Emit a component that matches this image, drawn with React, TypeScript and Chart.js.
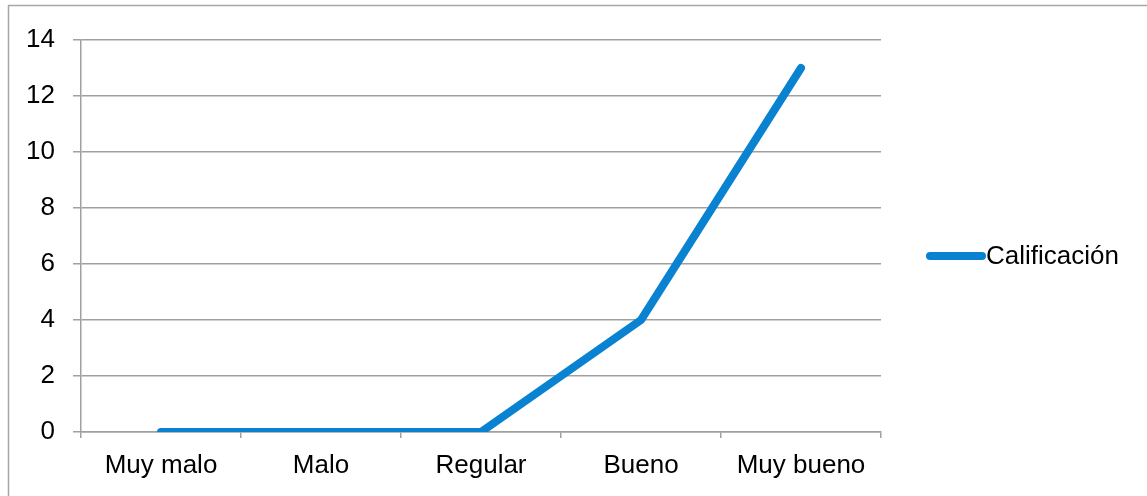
import React, { useEffect, useRef } from "react";
import { Chart, registerables } from "chart.js";

Chart.register(...registerables);

const categories = ["Muy malo", "Malo", "Regular", "Bueno", "Muy bueno"];
const seriesLabel = "Calificación";
const seriesValues = [0, 0, 0, 4, 13];
const yTicks = [0, 2, 4, 6, 8, 10, 12, 14];

const LINE_COLOR = "#0a82d2";
const GRID_COLOR = "#a0a0a0";
const FONT = "Liberation Sans, Arial, sans-serif";
const FONT_SIZE = 26;

// Frame around the chart plus a right-hand legend drawn with a line swatch
const framePlugin = {
  id: "frameAndLegend",
  afterDraw(chart: any) {
    const ctx = chart.ctx;
    ctx.save();
    ctx.strokeStyle = "#a6a6a6";
    ctx.lineWidth = 1.5;
    ctx.beginPath();
    ctx.moveTo(8.5, chart.height + 5);
    ctx.lineTo(8.5, 5.5);
    ctx.lineTo(chart.width + 5, 5.5);
    ctx.stroke();

    const y = 256;
    ctx.strokeStyle = LINE_COLOR;
    ctx.lineWidth = 8;
    ctx.lineCap = "round";
    ctx.beginPath();
    ctx.moveTo(930, y);
    ctx.lineTo(982, y);
    ctx.stroke();
    ctx.fillStyle = "#000";
    ctx.font = `${FONT_SIZE}px ${FONT}`;
    ctx.textBaseline = "middle";
    ctx.textAlign = "left";
    ctx.fillText(seriesLabel, 986, y + 1);
    ctx.restore();
  },
};

export default function App() {
  const ref = useRef<HTMLCanvasElement>(null);
  useEffect(() => {
    if (!ref.current) return;
    const chart = new Chart(ref.current, {
      type: "line",
      data: {
        labels: categories,
        datasets: [
          {
            label: seriesLabel,
            data: seriesValues,
            borderColor: LINE_COLOR,
            backgroundColor: LINE_COLOR,
            borderWidth: 8,
            borderCapStyle: "round",
            borderJoinStyle: "round",
            pointRadius: 0,
            tension: 0,
          },
        ],
      },
      options: {
        animation: false,
        responsive: false,
        maintainAspectRatio: false,
        layout: { padding: { left: 0, top: 40, right: 266, bottom: 0 } },
        plugins: { legend: { display: false }, tooltip: { enabled: false } },
        scales: {
          x: {
            offset: true,
            grid: {
              offset: true,
              drawOnChartArea: false,
              drawTicks: true,
              tickLength: 6,
              color: GRID_COLOR,
              lineWidth: 1.5,
            },
            border: { color: GRID_COLOR, width: 1.5 },
            ticks: {
              color: "#000",
              font: { family: FONT, size: FONT_SIZE },
              padding: 12,
              maxRotation: 0,
              autoSkip: false,
            },
            afterFit(scale: any) {
              scale.height = 64;
            },
          },
          y: {
            min: 0,
            max: 14,
            afterBuildTicks(scale: any) {
              scale.ticks = yTicks.map((v) => ({ value: v }));
            },
            grid: {
              color: GRID_COLOR,
              lineWidth: 1.5,
              drawTicks: true,
              tickLength: 8,
            },
            border: { color: GRID_COLOR, width: 1.5 },
            ticks: {
              color: "#000",
              font: { family: FONT, size: FONT_SIZE },
              padding: 18,
            },
            afterFit(scale: any) {
              scale.width = 81;
            },
          },
        },
      },
      plugins: [framePlugin],
    });
    return () => chart.destroy();
  }, []);
  return (
    <div style={{ position: "absolute", left: 0, top: 0, width: 1147, height: 496, background: "#fff" }}>
      <canvas ref={ref} width={1147} height={496} style={{ display: "block" }} />
    </div>
  );
}
